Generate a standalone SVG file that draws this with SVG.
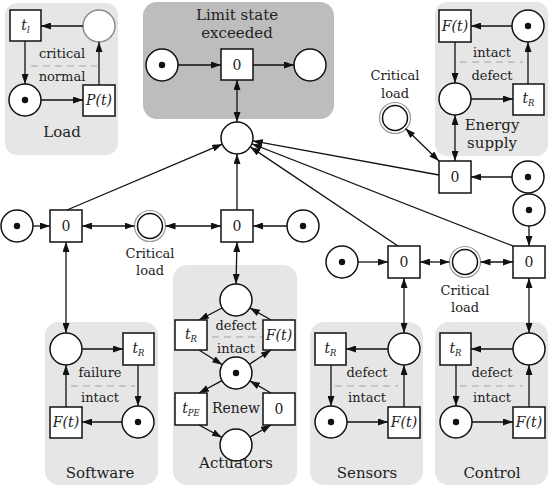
<svg xmlns="http://www.w3.org/2000/svg" width="550" height="488" viewBox="0 0 550 488">
<defs>
<marker id="a" viewBox="0 0 10 7" refX="10" refY="3.5" markerWidth="10" markerHeight="7" markerUnits="userSpaceOnUse" orient="auto-start-reverse"><path d="M0,0 L10,3.5 L0,7 z" fill="#111"/></marker>
<style>
.bg{fill:#e6e6e6}
.bgd{fill:#bdbdbd}
.n{fill:#fff;stroke:#111;stroke-width:1.5}
.ng{fill:#fff;stroke:#8a8a8a;stroke-width:1.5}
.cr{fill:#fff;stroke:#9a9a9a;stroke-width:1.2}
.tk{fill:#111}
text{font-family:"DejaVu Serif","Liberation Serif",serif;fill:#222;text-anchor:middle}
.lb{font-size:15px}
.sm{font-size:13px}
.bx{font-size:14px}
.it{font-size:14px;font-style:italic}
.sub{font-size:8.5px;font-style:italic}
.c{stroke:#111;stroke-width:1.3;fill:none;marker-end:url(#a)}
.c2{stroke:#111;stroke-width:1.3;fill:none;marker-end:url(#a);marker-start:url(#a)}
.dash{stroke:#c4c4c4;stroke-width:2;stroke-dasharray:7 5;fill:none}
</style>
</defs>

<g id="regions">
<rect class="bg" x="5" y="3" width="113" height="152" rx="12"/>
<rect class="bgd" x="143" y="2" width="191" height="117" rx="14"/>
<rect class="bg" x="435" y="2" width="113" height="154" rx="12"/>
<rect class="bg" x="45" y="322" width="113" height="163" rx="14"/>
<rect class="bg" x="173" y="265" width="124" height="220" rx="14"/>
<rect class="bg" x="310" y="322" width="113" height="163" rx="14"/>
<rect class="bg" x="435" y="322" width="113" height="163" rx="14"/>
</g>

<g id="load">
<rect class="n" x="10" y="10" width="31" height="31"/>
<text class="it" x="25.5" y="30">t<tspan class="sub" dy="3">l</tspan></text>
<circle class="ng" cx="99" cy="26" r="16"/>
<circle class="n" cx="25" cy="100" r="16"/><circle class="tk" cx="25" cy="100" r="3.2"/>
<rect class="n" x="83" y="85" width="32" height="31"/>
<text class="it" x="99" y="105">P(t)</text>
<text class="sm" x="62" y="58">critical</text>
<line class="dash" x1="31" y1="66" x2="97" y2="66"/>
<text class="sm" x="62" y="81">normal</text>
<text class="lb" x="62" y="137">Load</text>
</g>

<g id="limit">
<text class="lb" x="237" y="20">Limit state</text>
<text class="lb" x="237" y="38">exceeded</text>
<circle class="n" cx="162" cy="65" r="16"/><circle class="tk" cx="162" cy="65" r="3.2"/>
<rect class="n" x="221" y="49" width="32" height="31"/>
<text class="bx" x="237" y="70">0</text>
<circle class="n" cx="310" cy="65" r="16"/>
</g>

<g id="central"><circle class="n" cx="237" cy="138" r="16"/></g>

<g id="energy">
<rect class="n" x="439" y="10" width="32" height="32"/>
<text class="it" x="455" y="31">F(t)</text>
<circle class="n" cx="528" cy="26" r="16"/><circle class="tk" cx="528" cy="26" r="3.2"/>
<circle class="n" cx="455" cy="99" r="16"/>
<rect class="n" x="513" y="84" width="31" height="31"/>
<text class="it" x="528.5" y="103">t<tspan class="sub" dy="3">R</tspan></text>
<text class="sm" x="492" y="57">intact</text>
<line class="dash" x1="460" y1="62" x2="523" y2="62"/>
<text class="sm" x="492" y="80">defect</text>
<text class="lb" x="492" y="130">Energy</text>
<text class="lb" x="492" y="148">supply</text>
</g>

<g id="critical-top">
<text class="sm" x="395" y="80">Critical</text>
<text class="sm" x="395" y="98">load</text>
<circle class="cr" cx="395" cy="118" r="15.5"/><circle class="n" cx="395" cy="118" r="12.5"/>
</g>

<g id="energy-gate">
<rect class="n" x="439" y="161" width="32" height="32"/>
<text class="bx" x="455" y="182">0</text>
<circle class="n" cx="528" cy="177" r="16"/><circle class="tk" cx="528" cy="177" r="3.2"/>
</g>

<g id="left-gate">
<circle class="n" cx="17" cy="226" r="16"/><circle class="tk" cx="17" cy="226" r="3.2"/>
<rect class="n" x="50" y="210" width="32" height="32"/>
<text class="bx" x="66" y="231">0</text>
</g>
<g id="critical-left">
<circle class="cr" cx="150" cy="226" r="15.5"/><circle class="n" cx="150" cy="226" r="12.5"/>
<text class="sm" x="150" y="258">Critical</text>
<text class="sm" x="150" y="275">load</text>
</g>
<g id="actuator-gate">
<rect class="n" x="221" y="210" width="32" height="32"/>
<text class="bx" x="237" y="231">0</text>
<circle class="n" cx="303" cy="226" r="16"/><circle class="tk" cx="303" cy="226" r="3.2"/>
</g>

<g id="sensor-gate">
<circle class="n" cx="342" cy="262" r="16"/><circle class="tk" cx="342" cy="262" r="3.2"/>
<rect class="n" x="388" y="246" width="32" height="32"/>
<text class="bx" x="404" y="267">0</text>
</g>
<g id="critical-right">
<circle class="cr" cx="465" cy="262" r="15.5"/><circle class="n" cx="465" cy="262" r="12.5"/>
<text class="sm" x="465" y="295">Critical</text>
<text class="sm" x="465" y="312">load</text>
</g>
<g id="control-gate">
<circle class="n" cx="529" cy="210" r="16"/><circle class="tk" cx="529" cy="210" r="3.2"/>
<rect class="n" x="513" y="246" width="32" height="32"/>
<text class="bx" x="529" y="267">0</text>
</g>

<g id="software">
<circle class="n" cx="66" cy="349" r="16"/>
<rect class="n" x="123" y="333" width="31" height="32"/>
<text class="it" x="138.5" y="353">t<tspan class="sub" dy="3">R</tspan></text>
<circle class="n" cx="138" cy="422" r="16"/><circle class="tk" cx="138" cy="422" r="3.2"/>
<rect class="n" x="50" y="407" width="32" height="31"/>
<text class="it" x="66" y="427">F(t)</text>
<text class="sm" x="100" y="377">failure</text>
<line class="dash" x1="71" y1="386" x2="135" y2="386"/>
<text class="sm" x="100" y="402">intact</text>
<text class="lb" x="100" y="478">Software</text>
</g>

<g id="actuators">
<circle class="n" cx="236" cy="300" r="16"/>
<rect class="n" x="175" y="320" width="32" height="30"/>
<text class="it" x="191" y="339">t<tspan class="sub" dy="3">R</tspan></text>
<rect class="n" x="263" y="320" width="32" height="30"/>
<text class="it" x="279" y="340">F(t)</text>
<circle class="n" cx="236" cy="373" r="16"/><circle class="tk" cx="236" cy="373" r="3.2"/>
<rect class="n" x="175" y="393" width="32" height="32"/>
<text class="it" x="191" y="413">t<tspan class="sub" dy="3">PE</tspan></text>
<rect class="n" x="263" y="393" width="32" height="32"/>
<text class="bx" x="279" y="414">0</text>
<circle class="n" cx="236" cy="445" r="16"/>
<text class="sm" x="236" y="330">defect</text>
<line class="dash" x1="212" y1="337" x2="262" y2="337"/>
<text class="sm" x="236" y="353">intact</text>
<text class="bx" x="236" y="413">Renew</text>
<text class="lb" x="236" y="468">Actuators</text>
</g>

<g id="sensors">
<rect class="n" x="315" y="333" width="31" height="32"/>
<text class="it" x="330.5" y="353">t<tspan class="sub" dy="3">R</tspan></text>
<circle class="n" cx="404" cy="349" r="16"/>
<circle class="n" cx="331" cy="422" r="16"/><circle class="tk" cx="331" cy="422" r="3.2"/>
<rect class="n" x="388" y="407" width="32" height="31"/>
<text class="it" x="404" y="427">F(t)</text>
<text class="sm" x="367" y="377">defect</text>
<line class="dash" x1="335" y1="386" x2="398" y2="386"/>
<text class="sm" x="367" y="402">intact</text>
<text class="lb" x="367" y="478">Sensors</text>
</g>

<g id="control">
<rect class="n" x="440" y="333" width="31" height="32"/>
<text class="it" x="455.5" y="353">t<tspan class="sub" dy="3">R</tspan></text>
<circle class="n" cx="529" cy="349" r="16"/>
<circle class="n" cx="456" cy="422" r="16"/><circle class="tk" cx="456" cy="422" r="3.2"/>
<rect class="n" x="513" y="407" width="32" height="31"/>
<text class="it" x="529" y="427">F(t)</text>
<text class="sm" x="492" y="377">defect</text>
<line class="dash" x1="460" y1="386" x2="523" y2="386"/>
<text class="sm" x="492" y="402">intact</text>
<text class="lb" x="492" y="478">Control</text>
</g>

<g id="connectors">
<line class="c" x1="83" y1="26" x2="41" y2="26"/>
<line class="c" x1="25" y1="41" x2="25" y2="84"/>
<line class="c" x1="41" y1="100" x2="83" y2="100"/>
<line class="c" x1="99" y1="85" x2="99" y2="42"/>
<line class="c" x1="178" y1="65" x2="221" y2="65"/>
<line class="c" x1="253" y1="65" x2="294" y2="65"/>
<line class="c2" x1="237" y1="80" x2="237" y2="122"/>
<line class="c" x1="512" y1="26" x2="471" y2="26"/>
<line class="c" x1="455" y1="42" x2="455" y2="83"/>
<line class="c" x1="471" y1="99" x2="513" y2="99"/>
<line class="c" x1="528" y1="84" x2="528" y2="42"/>
<line class="c" x1="512" y1="177" x2="471" y2="177"/>
<line class="c2" x1="455" y1="115" x2="455" y2="161"/>
<line class="c2" x1="405.5" y1="128.5" x2="439" y2="161"/>
<line class="c" x1="439" y1="175" x2="252.7" y2="140.9"/>
<line class="c" x1="33" y1="226" x2="50" y2="226"/>
<line class="c2" x1="82" y1="226" x2="134.5" y2="226"/>
<line class="c2" x1="165.5" y1="226" x2="221" y2="226"/>
<line class="c" x1="287" y1="226" x2="253" y2="226"/>
<line class="c" x1="67" y1="210" x2="222.3" y2="144.2"/>
<line class="c" x1="237" y1="210" x2="237" y2="154"/>
<line class="c2" x1="237" y1="242" x2="236" y2="284"/>
<line class="c2" x1="66" y1="242" x2="66" y2="333"/>
<line class="c" x1="358" y1="262" x2="388" y2="262"/>
<line class="c2" x1="420" y1="262" x2="449.5" y2="262"/>
<line class="c2" x1="480.5" y1="262" x2="513" y2="262"/>
<line class="c" x1="529" y1="226" x2="529" y2="246"/>
<line class="c2" x1="404" y1="278" x2="404" y2="333"/>
<line class="c2" x1="529" y1="278" x2="529" y2="333"/>
<line class="c" x1="398" y1="246" x2="250.3" y2="146.9"/>
<line class="c" x1="513" y1="246" x2="251.9" y2="143.8"/>
<line class="c" x1="82" y1="349" x2="123" y2="349"/>
<line class="c" x1="138" y1="365" x2="138" y2="406"/>
<line class="c" x1="122" y1="422" x2="82" y2="422"/>
<line class="c" x1="66" y1="407" x2="66" y2="365"/>
<line class="c" x1="222" y1="308" x2="199" y2="320"/>
<line class="c" x1="199" y1="350" x2="222.3" y2="364.7"/>
<line class="c" x1="249.4" y1="364.2" x2="271" y2="350"/>
<line class="c" x1="271" y1="320" x2="249.9" y2="307.9"/>
<line class="c" x1="221.9" y1="380.6" x2="199" y2="393"/>
<line class="c" x1="199" y1="425" x2="221.9" y2="437.4"/>
<line class="c" x1="249.9" y1="437.1" x2="271" y2="425"/>
<line class="c" x1="271" y1="393" x2="249.9" y2="380.9"/>
<line class="c" x1="388" y1="349" x2="346" y2="349"/>
<line class="c" x1="331" y1="365" x2="331" y2="406"/>
<line class="c" x1="347" y1="422" x2="388" y2="422"/>
<line class="c" x1="404" y1="407" x2="404" y2="365"/>
<line class="c" x1="513" y1="349" x2="471" y2="349"/>
<line class="c" x1="456" y1="365" x2="456" y2="406"/>
<line class="c" x1="472" y1="422" x2="513" y2="422"/>
<line class="c" x1="529" y1="407" x2="529" y2="365"/>
</g>
</svg>
